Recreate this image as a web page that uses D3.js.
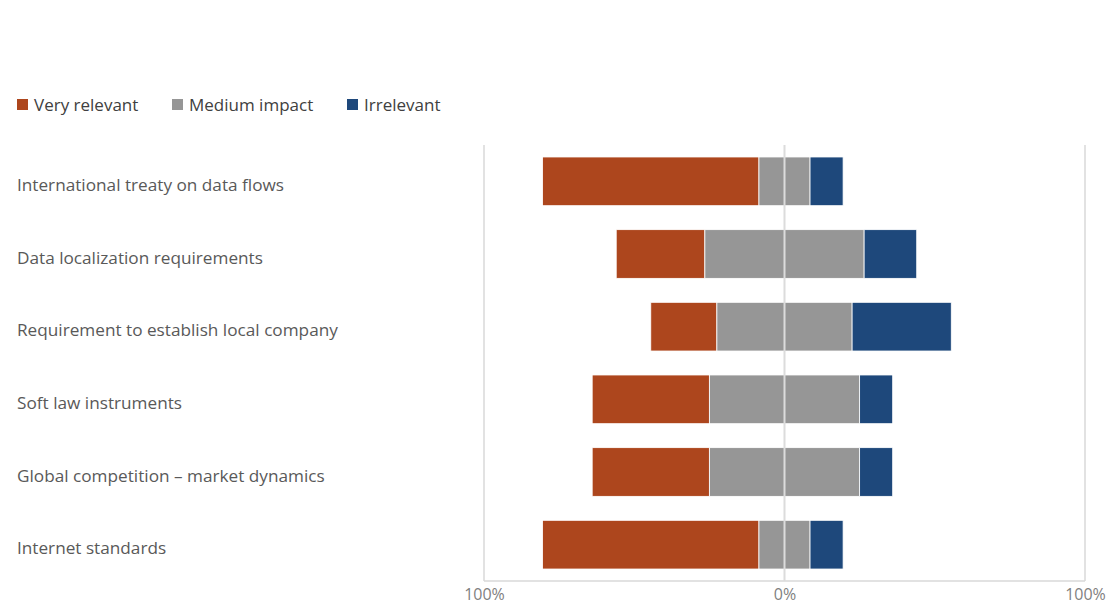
<!DOCTYPE html>
<html>
<head>
<meta charset="utf-8">
<script src="https://cdn.jsdelivr.net/npm/d3@7"></script>
<style>
  html, body { margin: 0; padding: 0; background: #fff; }
  svg { display: block; }
  text { font-family: "Open Sans", "Noto Sans", sans-serif; }
</style>
</head>
<body>
<svg id="chart" width="1113" height="608"></svg>
<script>
// Survey factors, top to bottom
const categories = [
  "International treaty on data flows",
  "Data localization requirements",
  "Requirement to establish local company",
  "Soft law instruments",
  "Global competition \u2013 market dynamics",
  "Internet standards"
];
// Share of answers per factor (percent)
const veryRelevant = [72, 29.5, 22, 39, 39, 72];
const mediumImpact = [17, 53, 45, 50, 50, 17];
const irrelevant   = [11, 17.5, 33, 11, 11, 11];

const seriesNames = ["Very relevant", "Medium impact", "Irrelevant"];
const seriesColors = ["#AD461D", "#969696", "#1E487B"];
const tickValues = [-100, 0, 100];
const tickLabels = ["100%", "0%", "100%"];

const svg = d3.select("#chart");
const plot = { left: 484, right: 1085, top: 145, bottom: 581 };

const x = d3.scaleLinear().domain([-100, 100]).range([plot.left, plot.right]);
const y = d3.scaleBand().domain(categories).range([plot.top, plot.bottom]).paddingInner(0.33).paddingOuter(0.165);

// Diverging layout: medium impact is centred on zero
const rows = categories.map((c, i) => {
  const v = veryRelevant[i], m = mediumImpact[i], r = irrelevant[i];
  const m0 = -m / 2;
  return [
    { cat: c, s: 0, x0: m0 - v, x1: m0 },
    { cat: c, s: 1, x0: m0, x1: m0 + m },
    { cat: c, s: 2, x0: m0 + m, x1: m0 + m + r }
  ];
}).flat();

// Grid frame: vertical lines and bottom line
const grid = svg.append("g");
grid.selectAll("line.v").data(tickValues.filter(t => t !== 0)).join("line")
  .attr("x1", d => x(d)).attr("x2", d => x(d))
  .attr("y1", plot.top).attr("y2", plot.bottom)
  .attr("stroke", "#d9d9d9").attr("stroke-width", 1.5);
grid.append("line")
  .attr("x1", x(-100)).attr("x2", x(100))
  .attr("y1", plot.bottom).attr("y2", plot.bottom)
  .attr("stroke", "#d9d9d9").attr("stroke-width", 1.5);

// Bars
svg.append("g").selectAll("rect").data(rows).join("rect")
  .attr("x", d => x(d.x0))
  .attr("width", d => x(d.x1) - x(d.x0))
  .attr("y", d => y(d.cat))
  .attr("height", y.bandwidth())
  .attr("fill", d => seriesColors[d.s])
  .attr("stroke", "#ffffff").attr("stroke-width", 0.8);

// Zero line drawn over the bars
svg.append("line")
  .attr("x1", x(0)).attr("x2", x(0))
  .attr("y1", plot.top).attr("y2", plot.bottom)
  .attr("stroke", "#dcdcdc").attr("stroke-width", 2);

// Bottom axis labels
const xAxis = d3.axisBottom(x).tickValues(tickValues)
  .tickFormat((d, i) => tickLabels[i]).tickSize(0).tickPadding(8);
const ax = svg.append("g").attr("transform", `translate(0,${plot.bottom})`).call(xAxis);
ax.select(".domain").remove();
ax.selectAll("text").attr("fill", "#7f7f7f").style("font-size", "16px")
  .style("font-family", "'Open Sans', sans-serif");

// Category labels
svg.append("g").selectAll("text").data(categories).join("text")
  .attr("x", 17)
  .attr("y", d => y(d) + y.bandwidth() / 2 + 3.5)
  .attr("dy", "0.35em")
  .attr("fill", "#595959")
  .style("font-size", "17.2px")
  .text(d => d);

// Legend
const legendX = [17, 172, 347];
const lg = svg.append("g").selectAll("g").data(seriesNames).join("g")
  .attr("transform", (d, i) => `translate(${legendX[i]},99)`);
lg.append("rect").attr("width", 11).attr("height", 11)
  .attr("fill", (d, i) => seriesColors[i]);
lg.append("text").attr("x", 17).attr("y", 6.5).attr("dy", "0.35em")
  .attr("fill", "#404040").style("font-size", "17px").text(d => d);
</script>
</body>
</html>
